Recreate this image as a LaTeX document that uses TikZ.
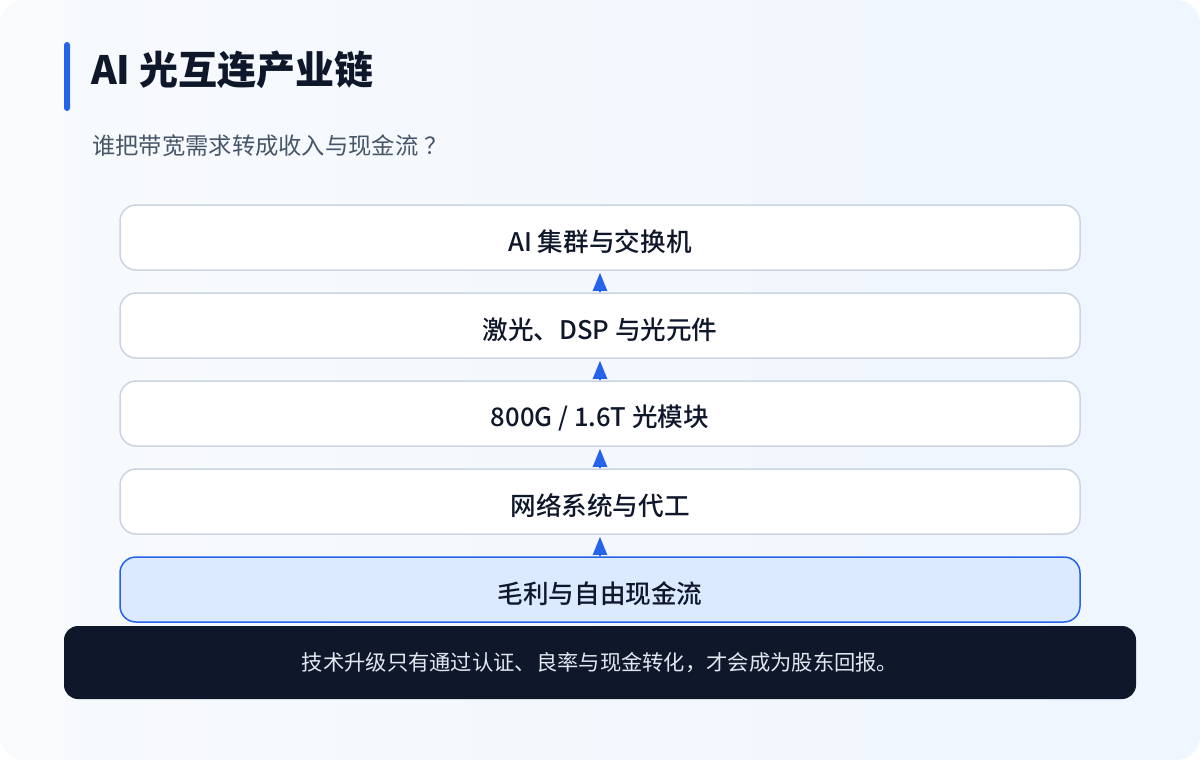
\documentclass[tikz,border=0pt]{standalone}
\usepackage{fontspec}
\setmainfont{Noto Sans CJK SC}
\newfontfamily\medfont{Noto Sans CJK SC Medium}
\usetikzlibrary{arrows.meta}
\definecolor{ink}{HTML}{0F172A}
\definecolor{subgray}{HTML}{475569}
\definecolor{accent}{HTML}{2563EB}
\definecolor{boxline}{HTML}{CBD5E1}
\definecolor{hifill}{HTML}{DBEAFE}
\definecolor{bgA}{HTML}{F8FAFC}
\definecolor{bgB}{HTML}{EFF6FF}
\definecolor{bartext}{HTML}{E2E8F0}
\tikzset{
  layer/.style={draw=boxline, line width=1.5pt, fill=white, rounded corners=16pt,
    minimum width=960pt, minimum height=65pt, inner sep=0pt},
  hilayer/.style={layer, draw=accent, fill=hifill},
  layertext/.style={inner sep=0pt, font=\fontsize{25.6}{30}\medfont, text=ink},
  uparrow/.style={draw=accent, line width=2pt, shorten >=2pt,
    -{Triangle[width=14pt,length=18pt]}, fill=accent}
}
\begin{document}
\begin{tikzpicture}[x=1pt,y=-1pt]
\useasboundingbox (0,0) rectangle (1200,760);
\fill[white] (0,0) rectangle (1200,760);
\shade[rounded corners=24pt, left color=bgA, right color=bgB] (0,0) rectangle (1200,760);
% title
\fill[accent, rounded corners=3pt] (64,42) rectangle (70,111);
\node[anchor=west, inner sep=0pt, text=ink, font=\fontsize{39}{45}\selectfont\bfseries] (title) at (91,70) {AI 光互连产业链};
\node[anchor=west, inner sep=0pt, text=subgray, font=\fontsize{23.3}{28}\selectfont] (subtitle) at (92,146) {谁把带宽需求转成收入与现金流\hspace{6pt}？};
% layers
\node[layer] (b1) at (600,237.5) {};
\node[layer] (b2) at (600,325.5) {};
\node[layer] (b3) at (600,413.5) {};
\node[layer] (b4) at (600,501.5) {};
\node[hilayer] (b5) at (600,589.5) {};
\node[layertext] (l1) at ([yshift=-4.5pt]b1.center) {AI 集群与交换机};
\node[layertext] (l2) at ([yshift=-4.5pt]b2.center) {激光、DSP 与光元件};
\node[layertext] (l3) at ([yshift=-4.5pt]b3.center) {800G / 1.6T 光模块};
\node[layertext] (l4) at ([yshift=-4.5pt]b4.center) {网络系统与代工};
\node[layertext] (l5) at ([yshift=-4.5pt]b5.center) {毛利与自由现金流};
\draw[uparrow] (b2.north) -- (b1.south);
\draw[uparrow] (b3.north) -- (b2.south);
\draw[uparrow] (b4.north) -- (b3.south);
\draw[uparrow] (b5.north) -- (b4.south);
% bottom bar
\node[fill=ink, rounded corners=14pt, minimum width=1072pt, minimum height=73pt, inner sep=0pt,
  text=bartext, font=\fontsize{21.3}{25}\selectfont] (bar) at (600,662.5) {技术升级只有通过认证、良率与现金转化，才会成为股东回报。};
\end{tikzpicture}
\end{document}
